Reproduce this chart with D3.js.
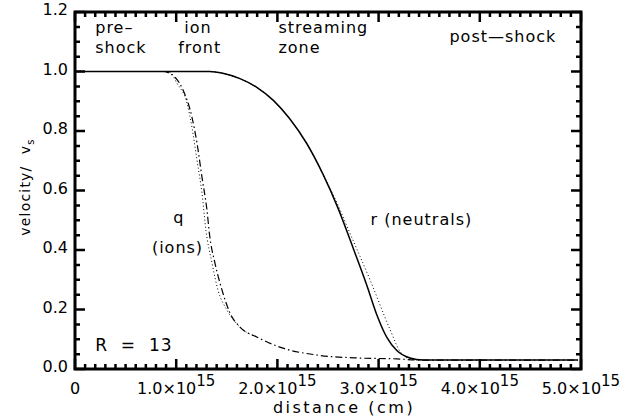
<!DOCTYPE html>
<html>
<head>
<meta charset="utf-8">
<script src="https://cdn.jsdelivr.net/npm/d3@7"></script>
<style>
  body { margin: 0; background: #fff; }
  text { font-family: "DejaVu Sans", sans-serif; fill: #000; }
</style>
</head>
<body>
<div id="plot"></div>
<script>
// neutrals (solid)
const neutralX = [0, 1.14e15, 1.33e15, 1.46e15, 1.63e15, 1.80e15, 1.96e15, 2.12e15, 2.29e15, 2.45e15, 2.60e15, 2.75e15, 2.885e15, 2.985e15, 3.08e15, 3.18e15, 3.31e15, 3.44e15, 4.97e15];
const neutralV = [1.0, 1.0, 1.0, 0.994, 0.976, 0.946, 0.903, 0.842, 0.758, 0.655, 0.54, 0.405, 0.28, 0.18, 0.107, 0.062, 0.037, 0.03, 0.03];
// neutrals, comparison (dotted)
const neutralDotX = [0, 1.14e15, 1.33e15, 1.46e15, 1.63e15, 1.80e15, 1.96e15, 2.12e15, 2.29e15, 2.45e15, 2.60e15, 2.70e15, 2.915e15, 3.11e15, 3.21e15, 3.31e15, 3.42e15];
const neutralDotV = [1.0, 1.0, 1.0, 0.994, 0.976, 0.946, 0.903, 0.842, 0.758, 0.655, 0.55, 0.47, 0.30, 0.135, 0.06, 0.034, 0.03];
// ions (dash-dot)
const ionX = [0, 0.87e15, 0.99e15, 1.07e15, 1.156e15, 1.206e15, 1.255e15, 1.304e15, 1.33e15, 1.383e15, 1.453e15, 1.532e15, 1.63e15, 1.80e15, 2.055e15, 2.39e15, 2.79e15, 3.18e15, 3.41e15, 4.97e15];
const ionV = [1.0, 1.0, 0.98, 0.936, 0.846, 0.758, 0.644, 0.534, 0.45, 0.356, 0.265, 0.188, 0.141, 0.107, 0.07, 0.047, 0.037, 0.034, 0.03, 0.03];
// ions, comparison (dotted)
const ionDotX = [0, 0.84e15, 0.94e15, 1.008e15, 1.107e15, 1.156e15, 1.206e15, 1.255e15, 1.294e15, 1.354e15, 1.413e15, 1.502e15, 1.63e15, 1.80e15];
const ionDotV = [1.0, 1.0, 0.997, 0.96, 0.893, 0.812, 0.701, 0.591, 0.466, 0.356, 0.265, 0.198, 0.141, 0.107];

const xTicks = [0, 1e15, 2e15, 3e15, 4e15, 5e15];
const xTickLabels = ["0", "1.0×10|15", "2.0×10|15", "3.0×10|15", "4.0×10|15", "5.0×10|15"];
const yTicks = [0, 0.2, 0.4, 0.6, 0.8, 1.0, 1.2];
const yTickLabels = ["0.0", "0.2", "0.4", "0.6", "0.8", "1.0", "1.2"];

const regionLabels = [
  {x: 0.2e15, v: 1.13, lines: ["pre–", "shock"]},
  {x: 1.02e15, v: 1.13, lines: [" ion", "front"]},
  {x: 2.01e15, v: 1.13, lines: ["streaming", "zone"]},
  {x: 3.70e15, v: 1.10, lines: ["post—shock"]}
];

const W = 635, H = 418;
const margin = {top: 12, right: 54, bottom: 49, left: 75};
const width = W - margin.left - margin.right,
      height = H - margin.top - margin.bottom;

const svg = d3.select("#plot").append("svg")
    .attr("width", W).attr("height", H);
const g = svg.append("g")
    .attr("transform", "translate(" + margin.left + "," + margin.top + ")");

const x = d3.scaleLinear().domain([0, 5e15]).range([0, width]);
const y = d3.scaleLinear().domain([0, 1.2]).range([height, 0]);

// curves
function series(xs, vs) { return xs.map((d, i) => ({x: d, v: vs[i]})); }
const line = d3.line().x(d => x(d.x)).y(d => y(d.v)).curve(d3.curveMonotoneX);

const curves = [
  {data: series(ionDotX, ionDotV), dash: "1,2.5", w: 1},
  {data: series(ionX, ionV), dash: "7,3,1.5,3", w: 1.2},
  {data: series(neutralDotX, neutralDotV), dash: "1,2.5", w: 1},
  {data: series(neutralX, neutralV), dash: null, w: 1.5}
];
curves.forEach(c => {
  g.append("path")
    .datum(c.data)
    .attr("fill", "none")
    .attr("stroke", "#000")
    .attr("stroke-width", c.w)
    .attr("stroke-dasharray", c.dash)
    .attr("d", line);
});

// frame
g.append("rect")
    .attr("width", width).attr("height", height)
    .attr("fill", "none").attr("stroke", "#000").attr("stroke-width", 3);

// ticks on all four sides, pointing inward (major every 10th / 4th)
const minorX = d3.range(0, 51).map(i => i * 1e14);
const minorY = d3.range(0, 25).map(i => i * 0.05);
const tp = d3.path();
minorX.forEach((d, i) => {
  const len = (i % 10 === 0) ? 10 : 5;
  tp.moveTo(x(d), height); tp.lineTo(x(d), height - len);
  tp.moveTo(x(d), 0); tp.lineTo(x(d), len);
});
minorY.forEach((d, i) => {
  const len = (i % 4 === 0) ? 10 : 5;
  tp.moveTo(0, y(d)); tp.lineTo(len, y(d));
  tp.moveTo(width, y(d)); tp.lineTo(width - len, y(d));
});
g.append("path")
    .attr("d", tp.toString())
    .attr("fill", "none")
    .attr("stroke", "#000")
    .attr("stroke-width", 2.5);

// tick labels
yTicks.forEach((d, i) => {
  g.append("text")
    .attr("x", -7).attr("y", y(d) + 3)
    .attr("text-anchor", "end")
    .attr("font-size", 16)
    .text(yTickLabels[i]);
});
xTicks.forEach((d, i) => {
  const parts = xTickLabels[i].split("|");
  const t = g.append("text")
    .attr("x", x(d)).attr("y", height + 25)
    .attr("text-anchor", "middle")
    .attr("font-size", 16);
  t.append("tspan").text(parts[0]);
  if (parts[1]) t.append("tspan").attr("dy", -8).attr("font-size", 15).text(parts[1]);
});

// axis titles
svg.append("text")
    .attr("x", 344).attr("y", H - 5)
    .attr("text-anchor", "middle").attr("font-size", 16)
    .attr("letter-spacing", 2.5)
    .text("distance (cm)");
const yt = svg.append("text")
    .attr("transform", "translate(30,187) rotate(-90)")
    .attr("text-anchor", "middle").attr("font-size", 14)
    .attr("letter-spacing", 1.2)
    .attr("xml:space", "preserve");
yt.append("tspan").text("velocity/  v");
yt.append("tspan").attr("dy", 4).attr("font-size", 10).text("s");

// region labels
regionLabels.forEach(r => {
  r.lines.forEach((s, i) => {
    g.append("text")
      .attr("x", x(r.x)).attr("y", y(r.v) + i * 20)
      .attr("font-size", 16)
      .attr("letter-spacing", 1)
      .attr("xml:space", "preserve")
      .text(s);
  });
});

// curve labels
function label(xv, v, s, size) {
  g.append("text").attr("x", x(xv)).attr("y", y(v))
    .attr("font-size", size).attr("letter-spacing", 1)
    .attr("xml:space", "preserve").text(s);
}
label(0.97e15, 0.49, "q", 16);
label(0.76e15, 0.39, "(ions)", 16);
label(2.92e15, 0.485, "r (neutrals)", 16);
label(0.2e15, 0.06, "R  =  13", 17);
</script>
</body>
</html>
